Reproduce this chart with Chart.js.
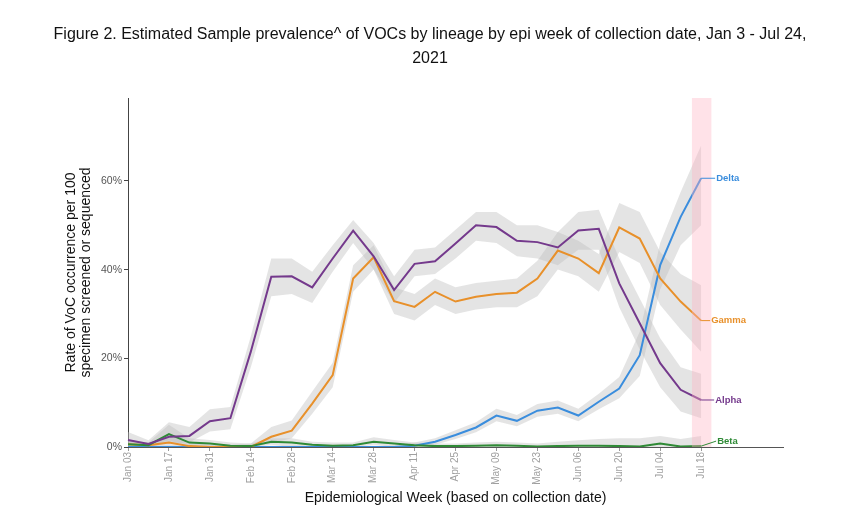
<!DOCTYPE html>
<html>
<head>
<meta charset="utf-8">
<script src="https://cdn.jsdelivr.net/npm/chart.js@4/dist/chart.umd.min.js"></script>
<style>
  body{ margin:0; background:#fff; }
  #wrap{ position:relative; width:860px; height:516px; }
  #title{
    position:absolute; left:0; top:22px; width:860px; text-align:center;
    font-family:"Liberation Sans",Arial,sans-serif; font-size:16px;
    line-height:24px; color:#111;
  }
  canvas{ position:absolute; left:0; top:0; }
</style>
</head>
<body>
<div id="wrap">
  <canvas id="chart_1" width="860" height="516"></canvas>
  <div id="title">Figure 2. Estimated Sample prevalence^ of VOCs by lineage by epi week of collection date, Jan 3 - Jul 24,<br>2021</div>
</div>
<script>
// epi weeks (x axis runs on to Aug 15, data stops at Jul 18)
let weeks = ['Jan 03','Jan 10','Jan 17','Jan 24','Jan 31','Feb 07','Feb 14','Feb 21','Feb 28',
    'Mar 07','Mar 14','Mar 21','Mar 28','Apr 04','Apr 11','Apr 18','Apr 25','May 02','May 09',
    'May 16','May 23','May 30','Jun 06','Jun 13','Jun 20','Jun 27','Jul 04','Jul 11','Jul 18',
    'Jul 25','Aug 01','Aug 08','Aug 15'];
let lastDataWeek = 28;
let yTicks = [0, 20, 40, 60];

let alpha = [1.6, 0.7, 2.3, 2.5, 5.8, 6.5, 21.5, 38.4, 38.5, 36.0, 42.5, 48.8, 43.0, 35.4, 41.3,
    41.9, 45.9, 50.0, 49.6, 46.5, 46.2, 45.0, 48.8, 49.2, 36.9, 27.9, 18.9, 12.9, 10.6];
let alphaLo = [0.3, 0, 0.8, 1.0, 3.5, 4.0, 18.0, 34.0, 34.5, 32.5, 39.5, 46.0, 40.0, 32.5, 38.5,
    39.0, 42.5, 46.5, 46.0, 43.0, 42.5, 41.0, 44.5, 44.5, 31.5, 22.0, 13.5, 8.0, 6.5];
let alphaHi = [3.4, 1.5, 5.6, 4.5, 8.5, 9.0, 25.0, 42.5, 42.5, 39.5, 45.5, 51.2, 46.0, 38.5, 44.5,
    45.0, 49.0, 53.0, 53.0, 50.0, 50.0, 48.5, 53.0, 53.5, 42.5, 33.5, 24.5, 18.0, 16.5];

let gamma = [0.6, 0.4, 1.0, 0.2, 0, 0, 0, 2.3, 3.7, 9.8, 16.2, 38.0, 42.8, 32.9, 31.6,
    35.0, 32.8, 33.9, 34.5, 34.8, 38.0, 44.3, 42.5, 39.2, 49.5, 47.0, 38.0, 32.8, 28.5];
let gammaLo = [0, 0, 0, 0, 0, 0, 0, 0.8, 2.0, 7.5, 13.5, 35.0, 40.0, 30.0, 28.5,
    32.0, 30.0, 31.0, 31.5, 31.5, 34.0, 40.0, 38.5, 35.0, 44.0, 41.5, 32.0, 26.5, 21.5];
let gammaHi = [1.5, 1.0, 2.5, 1.0, 0.5, 0.5, 0.8, 4.5, 6.0, 12.5, 19.0, 41.0, 45.5, 36.0, 34.5,
    38.0, 36.0, 37.0, 37.5, 38.0, 42.0, 48.5, 46.5, 43.5, 55.0, 53.0, 44.0, 39.0, 36.5];

let delta = [0, 0, 0, 0, 0, 0, 0, 0, 0, 0, 0, 0, 0, 0, 0.3,
    1.2, 2.7, 4.4, 7.1, 5.9, 8.2, 8.9, 7.1, 10.2, 13.2, 20.7, 41.0, 51.9, 60.6];
let deltaLo = [0, 0, 0, 0, 0, 0, 0, 0, 0, 0, 0, 0, 0, 0, 0,
    0.5, 1.8, 3.3, 5.8, 4.7, 6.8, 7.5, 5.8, 8.5, 11.0, 16.0, 35.5, 45.5, 50.0];
let deltaHi = [0.3, 0.3, 0.3, 0.3, 0.3, 0.3, 0.3, 0.3, 0.3, 0.3, 0.3, 0.3, 0.3, 0.3, 1.0,
    2.0, 3.8, 5.6, 8.6, 7.2, 9.7, 10.5, 8.6, 12.0, 15.8, 26.0, 46.0, 57.5, 68.0];

let beta = [0.6, 0.4, 2.9, 1.0, 0.8, 0.3, 0.2, 1.2, 1.0, 0.5, 0.3, 0.4, 1.2, 0.8, 0.4,
    0.2, 0.2, 0.3, 0.4, 0.3, 0.1, 0.2, 0.3, 0.3, 0.2, 0.1, 0.8, 0.1, 0.2];
let betaLo = [0, 0, 1.5, 0, 0, 0, 0, 0.5, 0, 0, 0, 0, 0.5, 0, 0,
    0, 0, 0, 0, 0, 0, 0, 0, 0, 0, 0, 0, 0, 0];
let betaHi = [1.5, 1.0, 5.0, 2.0, 1.6, 1.0, 0.8, 2.0, 2.0, 1.2, 1.0, 1.0, 2.2, 1.6, 1.0,
    0.8, 0.8, 1.0, 1.2, 1.0, 0.8, 1.2, 1.5, 1.8, 2.0, 2.0, 2.5, 1.8, 2.5];

let bandColor = 'rgba(190,190,190,0.42)';

function band(hi, lo){
    return [
        { data: hi, fill: '+1', backgroundColor: bandColor, borderWidth: 0, pointRadius: 0, order: 10, tension: 0 },
        { data: lo, fill: false, borderWidth: 0, pointRadius: 0, order: 10 }
    ];
}

function line(label, data, color, order){
    return { label: label, data: data, borderColor: color, borderWidth: 2, pointRadius: 0,
        fill: false, order: order, tension: 0 };
}

// pink highlight over the last (incomplete) week
const lastWeekBand = {
    id: 'lastWeekBand',
    afterDatasetsDraw(chart){
        let x = chart.scales.x, area = chart.chartArea, c = chart.ctx;
        let x0 = x.getPixelForValue(lastDataWeek - 0.45);
        let x1 = x.getPixelForValue(lastDataWeek + 0.5);
        c.save();
        c.fillStyle = 'rgba(255,180,195,0.38)';
        c.fillRect(x0, area.top, x1 - x0, area.bottom - area.top);
        c.restore();
    }
};

// series names at the end of each line
const endLabels = {
    id: 'endLabels',
    afterDraw(chart){
        let c = chart.ctx;
        let x = chart.scales.x, y = chart.scales.y;
        c.save();
        c.font = 'bold 9.5px "Liberation Sans", Arial, sans-serif';
        c.textBaseline = 'middle';
        c.lineWidth = 1;
        chart.options.plugins.endLabels.items.forEach(item => {
            let px = x.getPixelForValue(lastDataWeek);
            let py = y.getPixelForValue(item.data[lastDataWeek]);
            let ty = py + item.dy;
            c.strokeStyle = item.color;
            c.fillStyle = item.color;
            c.beginPath();
            c.moveTo(px, py);
            c.lineTo(px + item.dx - 1, ty);
            c.stroke();
            c.fillText(item.text, px + item.dx, ty);
        });
        c.restore();
    }
};

let colors = { alpha: '#74398c', gamma: '#e8902a', delta: '#3a8ddd', beta: '#2f8a36' };

let chart = new Chart('chart_1', {
    type: 'line',
    data: {
        labels: weeks,
        datasets: [
            ...band(deltaHi, deltaLo),
            ...band(betaHi, betaLo),
            ...band(gammaHi, gammaLo),
            ...band(alphaHi, alphaLo),
            line('Delta', delta, colors.delta, 4),
            line('Gamma', gamma, colors.gamma, 3),
            line('Beta', beta, colors.beta, 2),
            line('Alpha', alpha, colors.alpha, 1)
        ]
    },
    plugins: [lastWeekBand, endLabels],
    options: {
        responsive: false,
        animation: false,
        layout: { padding: { top: 98, right: 77, left: 0, bottom: 0 } },
        plugins: {
            legend: { display: false },
            tooltip: { enabled: false },
            endLabels: {
                items: [
                    { text: 'Delta', data: delta, color: colors.delta, dx: 15, dy: 0 },
                    { text: 'Gamma', data: gamma, color: colors.gamma, dx: 10, dy: 0 },
                    { text: 'Alpha', data: alpha, color: colors.alpha, dx: 14, dy: 0 },
                    { text: 'Beta', data: beta, color: colors.beta, dx: 16, dy: -5 }
                ]
            }
        },
        scales: {
            x: {
                type: 'category',
                offset: false,
                afterFit: s => { s.height = 69; },
                border: { display: true, color: '#555', width: 1 },
                grid: {
                    drawOnChartArea: false, tickLength: 4,
                    color: ctx => (ctx.index % 2 === 0 && ctx.index <= lastDataWeek) ? '#999' : 'rgba(0,0,0,0)'
                },
                ticks: {
                    autoSkip: false, minRotation: 90, maxRotation: 90, padding: 1,
                    color: '#a0a0a0',
                    font: { family: '"Liberation Sans", Arial, sans-serif', size: 10 },
                    callback: (v, i) => (i % 2 === 0 && i <= lastDataWeek) ? weeks[i] : ''
                },
                title: {
                    display: true,
                    text: 'Epidemiological Week (based on collection date)',
                    color: '#111',
                    font: { family: '"Liberation Sans", Arial, sans-serif', size: 14 },
                    padding: { top: 0, bottom: 9 }
                }
            },
            y: {
                min: 0, max: 78.7,
                afterFit: s => { s.width = 128; },
                afterBuildTicks: s => { s.ticks = yTicks.map(v => ({ value: v })); },
                border: { display: true, color: '#444', width: 1 },
                grid: { drawOnChartArea: false, tickLength: 4, color: '#444' },
                ticks: {
                    padding: 2, color: '#555',
                    font: { family: '"Liberation Sans", Arial, sans-serif', size: 10.5 },
                    callback: v => v + '%'
                },
                title: {
                    display: true,
                    text: ['Rate of VoC occurrence per 100', 'specimen screened or sequenced'],
                    color: '#111',
                    font: { family: '"Liberation Sans", Arial, sans-serif', size: 14, lineHeight: 1.05 },
                    padding: { top: 64, bottom: 0 }
                }
            }
        }
    }
});
</script>
</body>
</html>
